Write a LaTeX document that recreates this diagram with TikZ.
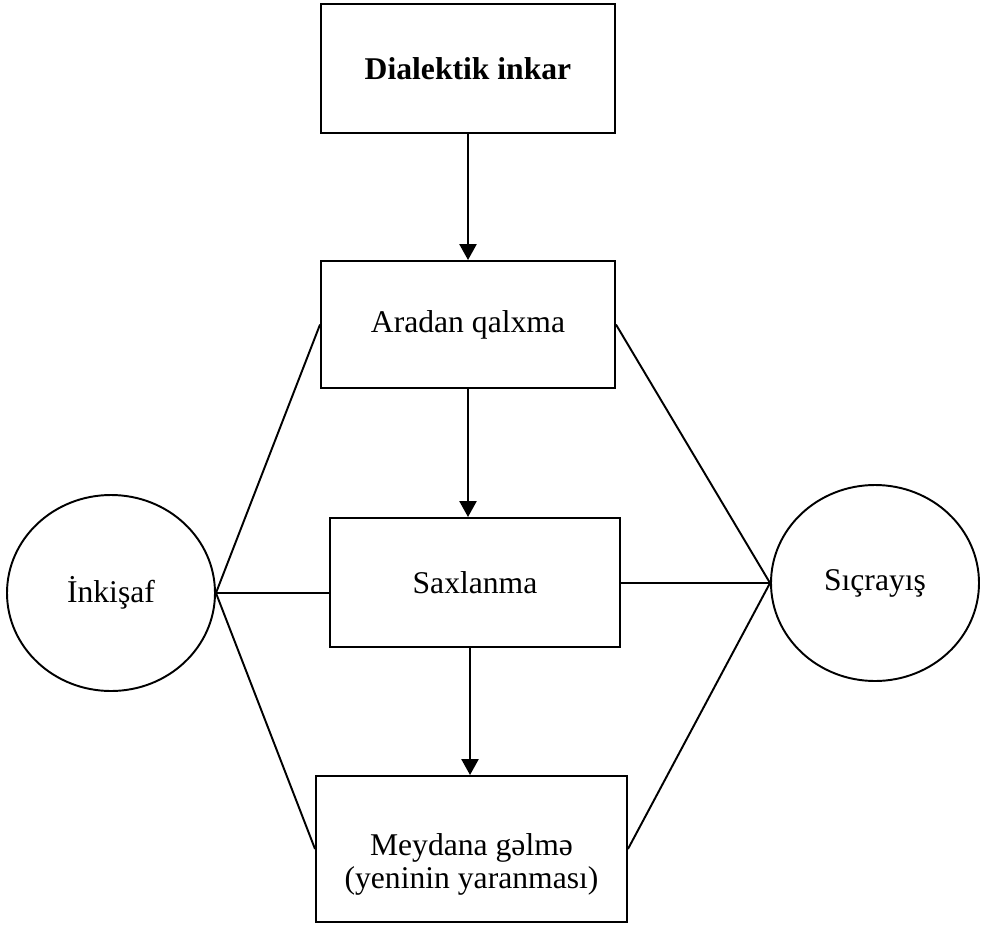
\documentclass[tikz,border=0pt]{standalone}
\usepackage{fontspec}
\setmainfont{Liberation Serif}
\usetikzlibrary{shapes.geometric, arrows.meta}
\tikzset{
  font=\fontsize{18}{18.5}\selectfont,       % body text size
  blok/.style    = {rectangle, draw, line width=1.1pt, align=center,
                    inner sep=2pt},
  dairə/.style   = {ellipse, draw, line width=1.1pt, inner sep=0pt,
                    minimum width=4.16cm, minimum height=3.92cm},
  ox/.style      = {-{Triangle[width=3.4mm,length=3.2mm]}, line width=1.4pt},
  xett/.style    = {line width=1.1pt}
}
\begin{document}
\begin{tikzpicture}
  \useasboundingbox (0,0) rectangle (19.74,-18.5);
  % main column of boxes
  \node[blok, minimum width=5.88cm, minimum height=2.58cm] (dialek)  at (9.36,-1.37)
       {\textbf{Dialektik inkar}};
  \node[blok, minimum width=5.88cm, minimum height=2.54cm] (aradan)  at (9.36,-6.49)
       {Aradan qalxma};
  \node[blok, minimum width=5.80cm, minimum height=2.58cm] (saxla)   at (9.50,-11.65)
       {Saxlanma};
  \node[blok, minimum width=6.22cm, minimum height=2.92cm] (meydana) at (9.43,-16.98)
       {\rule{0pt}{1.05cm}Meydana gəlmə\\(yeninin yaranması)};
  % side ellipses
  \node[dairə] (inkisaf) at (2.22,-11.86) {İnkişaf};
  \node[dairə] (sicrayis) at (17.50,-11.66) {Sıçrayış};
  % arrows down the column
  \draw[ox] (dialek.south) -- (dialek.south |- aradan.north);
  \draw[ox] (aradan.south) -- (aradan.south |- saxla.north);
  \draw[ox] ([xshift=-0.1cm]saxla.south) -- ([xshift=-0.1cm]saxla.south |- meydana.north);
  % fan lines
  \draw[xett] (aradan.west) -- (inkisaf.east) -- (meydana.west);
  \draw[xett] (inkisaf.east) -- (inkisaf.east -| saxla.west);
  \draw[xett] (aradan.east) -- (sicrayis.west) -- (meydana.east);
  \draw[xett] (sicrayis.west) -- (sicrayis.west -| saxla.east);
\end{tikzpicture}
\end{document}
